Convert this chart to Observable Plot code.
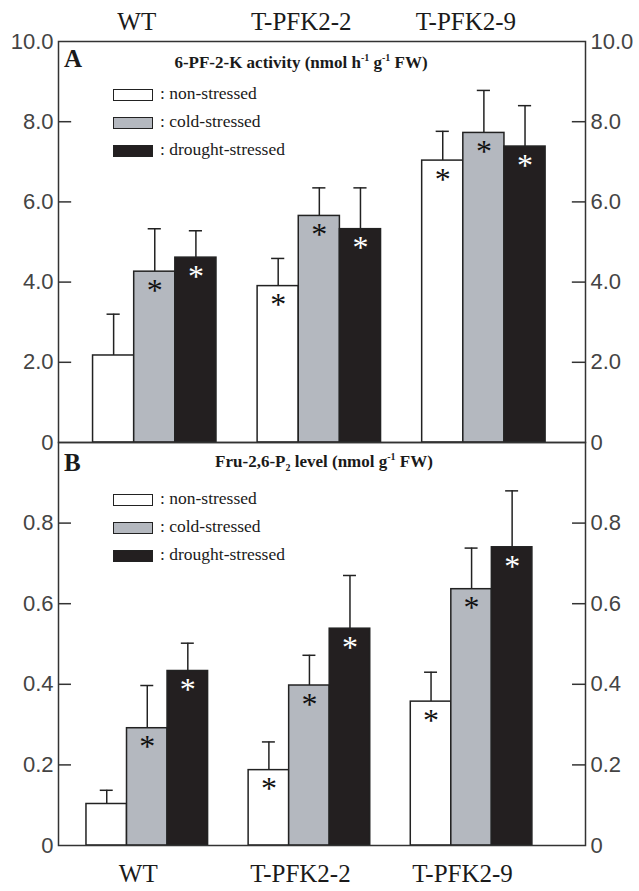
<!DOCTYPE html>
<html><head><meta charset="utf-8">
<script src="https://cdn.jsdelivr.net/npm/d3@7"></script>
<script src="https://cdn.jsdelivr.net/npm/@observablehq/plot@0.6"></script>
<style>
body{margin:0;background:#fff;}
#wrap{position:relative;width:639px;height:891px;overflow:hidden;}
#wrap svg{display:block;}
.ov{position:absolute;font-family:"Liberation Serif",serif;color:#1a1a1a;white-space:nowrap;line-height:1;}
.letter{font-size:25px;font-weight:bold;}
.ttl{font-size:17px;font-weight:bold;transform:translateX(-50%);}
.ttl sup,.ttl sub{font-size:10px;line-height:0;}
.leg{font-size:17.5px;}
.sw{position:absolute;width:38px;height:10px;border:1.5px solid #222;}
</style></head><body><div id="wrap"></div>
<script>
// ---- data ----
const groups = ["WT", "T-PFK2-2", "T-PFK2-9"];
const conditions = ["non-stressed", "cold-stressed", "drought-stressed"];
const conditionColors = ["#ffffff", "#b4b8bf", "#231f20"];

// Panel A: 6-PF-2-K activity (nmol h-1 g-1 FW), rows = groups, cols = conditions
const activityMean = [[2.17, 4.26, 4.61], [3.90, 5.65, 5.32], [7.03, 7.72, 7.38]];
const activityErr  = [[1.03, 1.07, 0.67], [0.69, 0.70, 1.03], [0.73, 1.06, 1.02]];
const activityStar = [[0, 1, 1], [1, 1, 1], [1, 1, 1]];
const activityTicks = [0, 2, 4, 6, 8, 10];

// Panel B: Fru-2,6-P2 level (nmol g-1 FW)
const fruMean = [[0.103, 0.291, 0.433], [0.187, 0.397, 0.538], [0.357, 0.636, 0.740]];
const fruErr  = [[0.034, 0.106, 0.069], [0.070, 0.075, 0.132], [0.073, 0.102, 0.140]];
const fruStar = [[0, 1, 1], [1, 1, 1], [1, 1, 1]];
const fruTicks = [0, 0.2, 0.4, 0.6, 0.8];

// ---- helpers ----
const slot = (d) => d.gi * 4 + d.ci;        // 3 bars + 1 gap per group
const center = (d) => slot(d) + 0.5;

function rows(mean, err, star) {
  return groups.flatMap((g, gi) => conditions.map((c, ci) => ({
    group: g, condition: c, gi, ci, value: mean[gi][ci], err: err[gi][ci], star: star[gi][ci]
  })));
}

function panel({mean, err, star, yDomain, ticks, xDomain, height, marginTop, marginBottom, labelAnchor, labelDy, labelDx}) {
  const data = rows(mean, err, star);
  const fmt = (d) => d === 0 ? "0" : d.toFixed(1);
  const inner = ticks.filter(t => t > yDomain[0] && t < yDomain[1]);
  const tl = 0.32;
  const axisStyle = {label: null, tickSize: 0, tickPadding: 5, tickFormat: fmt, fontSize: 22, fontFamily: "Liberation Sans, sans-serif", fill: "#444"};
  return Plot.plot({
    width: 639, height, marginLeft: 58, marginRight: 54, marginTop, marginBottom,
    style: {background: "transparent", overflow: "visible"},
    x: {type: "linear", domain: xDomain, axis: null},
    y: {domain: yDomain, axis: null},
    color: {domain: conditions, range: conditionColors},
    marks: [
      Plot.ruleX(data, {x: center, y1: "value", y2: d => d.value + d.err, stroke: "#222", strokeWidth: 1.5}),
      Plot.ruleY(data, {y: d => d.value + d.err, x1: d => center(d) - 0.16, x2: d => center(d) + 0.16, stroke: "#222", strokeWidth: 1.5}),
      Plot.rect(data, {x1: slot, x2: d => slot(d) + 1, y1: 0, y2: "value", fill: "condition", stroke: "#222", strokeWidth: 1.5}),
      Plot.text(data.filter(d => d.star && d.ci < 2), {x: center, y: "value", text: () => "*", dy: 19, fontSize: 32, fontFamily: "Liberation Serif", fill: "#111"}),
      Plot.text(data.filter(d => d.star && d.ci === 2), {x: center, y: "value", text: () => "*", dy: 19, fontSize: 32, fontFamily: "Liberation Serif", fill: "#fff"}),
      Plot.ruleY(inner, {y: d => d, x1: xDomain[0], x2: xDomain[0] + tl, stroke: "#333", strokeWidth: 1.5}),
      Plot.ruleY(inner, {y: d => d, x1: xDomain[1] - tl, x2: xDomain[1], stroke: "#333", strokeWidth: 1.5}),
      Plot.frame({stroke: "#333", strokeWidth: 1.5}),
      Plot.axisY({ticks, anchor: "left", ...axisStyle}),
      Plot.axisY({ticks, anchor: "right", ...axisStyle}),
      Plot.text(groups, {x: (d, i) => i * 4 + 1.5, text: d => d, frameAnchor: labelAnchor, lineAnchor: "middle", dy: labelDy, dx: labelDx, fontSize: 25, fontFamily: "Liberation Serif", fill: "#1a1a1a"})
    ]
  });
}

const wrap = document.getElementById("wrap");
const a = panel({mean: activityMean, err: activityErr, star: activityStar, yDomain: [0, 10], ticks: activityTicks,
  xDomain: [-0.84, 11.97], height: 450, marginTop: 41, marginBottom: 8, labelAnchor: "top", labelDy: -20, labelDx: -18});
const b = panel({mean: fruMean, err: fruErr, star: fruStar, yDomain: [0, 1], ticks: fruTicks,
  xDomain: [-0.69, 12.31], height: 457, marginTop: 8, marginBottom: 46, labelAnchor: "bottom", labelDy: 28, labelDx: -9});
b.style.marginTop = "-16px";
wrap.append(a, b);

// ---- overlays: panel letters, titles, legends ----
function ov(html, cls, left, top) {
  const el = document.createElement("div");
  el.className = "ov " + cls;
  el.innerHTML = html;
  el.style.left = left + "px"; el.style.top = top + "px";
  wrap.append(el);
  return el;
}
ov("A", "letter", 64, 46);
ov("6-PF-2-K activity (nmol h<sup>-1</sup> g<sup>-1</sup> FW)", "ttl", 301, 54);
ov("B", "letter", 64, 450);
ov("Fru-2,6-P<sub>2</sub> level (nmol g<sup>-1</sup> FW)", "ttl", 324, 453);

function legend(top0) {
  conditions.forEach((c, i) => {
    const y = top0 + i * 28;
    const sw = document.createElement("div");
    sw.className = "sw";
    sw.style.left = "113px"; sw.style.top = (y - 6) + "px";
    sw.style.background = conditionColors[i];
    wrap.append(sw);
    ov(": " + c, "leg", 160, y - 10);
  });
}
legend(95);
legend(500);
</script></body></html>
